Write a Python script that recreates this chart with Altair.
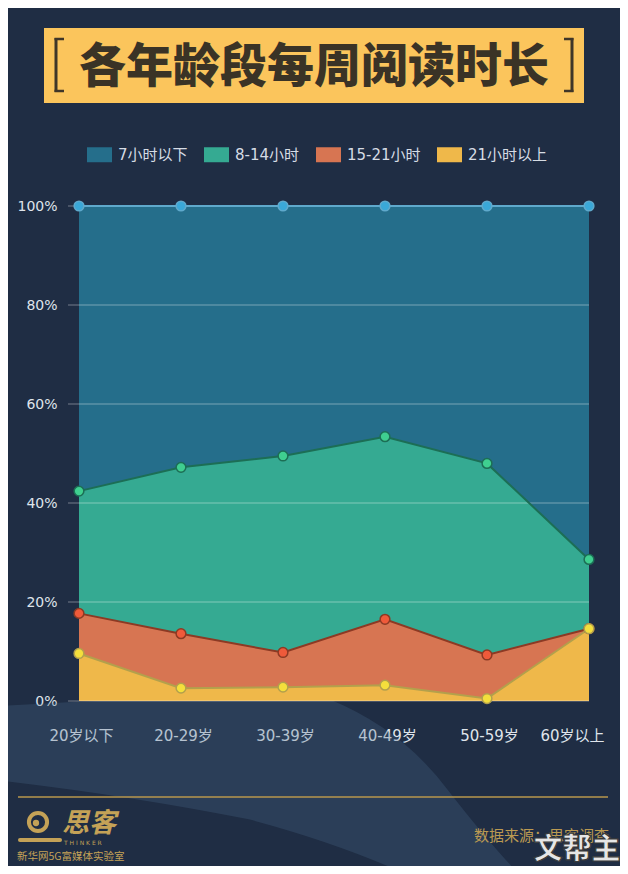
import altair as alt
import pandas as pd

# ---------------- data ----------------
ages = ["20岁以下", "20-29岁", "30-39岁", "40-49岁", "50-59岁", "60岁以上"]
series_names = ["7小时以下", "8-14小时", "15-21小时", "21小时以上"]
under7 = [57.6, 52.8, 50.5, 46.6, 52.0, 71.4]
h8_14 = [24.7, 33.6, 39.7, 36.9, 38.7, 14.0]
h15_21 = [8.1, 11.0, 7.0, 13.3, 8.8, 0.0]
over21 = [9.6, 2.6, 2.8, 3.2, 0.5, 14.6]
y_ticks = [0, 20, 40, 60, 80, 100]

title_text = "各年龄段每周阅读时长"
source_text = "数据来源：思客调查"
lab_text = "新华网5G富媒体实验室"
logo_text = "思客"
logo_sub = "T H I N K E R"
watermark = "文帮主"

# ---------------- styles ----------------
area_colors = ["#256e8b", "#35aa92", "#d77552", "#efb84a"]
line_colors = ["#5fa9cc", "#1c6e55", "#8c3a24", "#b3a04c"]
point_fill = ["#3aa8d8", "#3fcf90", "#ef5a3a", "#f4df3c"]
BG = "#1f2d44"
FONT = "Noto Sans CJK SC"
LFONT = "DejaVu Sans, Noto Sans CJK SC"

rows = []
for s_i, (name, vals) in enumerate(zip(series_names, [under7, h8_14, h15_21, over21])):
    for a_i, (age, v) in enumerate(zip(ages, vals)):
        rows.append({"age": age, "series": name, "value": v, "order": 3 - s_i})
df = pd.DataFrame(rows)
grid_df = pd.DataFrame({"tick": y_ticks})
one = pd.DataFrame({"k": [0]})

x_enc = alt.X(
    "age:N",
    sort=ages,
    scale=alt.Scale(type="point", range=[11, 521], padding=0),
    axis=alt.Axis(
        title=None, domain=False, ticks=False, grid=False,
        labelAngle=0, labelFontSize=15, labelColor="#dfe4eb", labelFont=LFONT,
        labelPadding=27,
        labelOffset={"condition": {"test": "datum.value === '60岁以上'", "value": -17}, "value": 2},
    ),
)
y_scale = alt.Scale(domain=[0, 100], nice=False)

base = alt.Chart(df).transform_stack(
    stack="value", groupby=["age"], as_=["y0", "y1"], sort=[alt.SortField("order")]
)

areas = base.mark_area(opacity=1, line=False).encode(
    x=x_enc,
    y=alt.Y(
        "y1:Q", scale=y_scale,
        axis=alt.Axis(
            title=None, values=y_ticks, grid=False, domain=False, ticks=False,
            labelExpr="datum.value + '%'", labelFontSize=14, labelColor="#dfe4eb",
            labelFont=LFONT, labelPadding=11,
        ),
    ),
    y2="y0:Q",
    color=alt.Color(
        "series:N",
        scale=alt.Scale(domain=series_names, range=area_colors),
        legend=alt.Legend(
            title=None, orient="none", legendX=19, legendY=-64, direction="horizontal",
            symbolType="M-1,-0.6H1V0.6H-1Z", symbolSize=625, symbolStrokeWidth=0,
            symbolOpacity=1, labelFontSize=15, labelColor="#d6dce4", labelFont=LFONT,
            labelOffset=6, columnPadding=16,
        ),
    ),
)

grid = alt.Chart(grid_df).mark_rule(color="#ffffff", opacity=0.38, strokeWidth=1).encode(
    y=alt.Y("tick:Q", scale=y_scale)
)

lines = base.mark_line(strokeWidth=2).encode(
    x=x_enc,
    y=alt.Y("y1:Q", scale=y_scale),
    stroke=alt.Stroke("series:N", scale=alt.Scale(domain=series_names, range=line_colors), legend=None),
)

points = base.mark_point(filled=True, size=95, strokeWidth=1.5, opacity=1).encode(
    x=x_enc,
    y=alt.Y("y1:Q", scale=y_scale),
    fill=alt.Fill("series:N", scale=alt.Scale(domain=series_names, range=point_fill), legend=None),
    stroke=alt.Stroke("series:N", scale=alt.Scale(domain=series_names, range=line_colors), legend=None),
)

# ---------------- decorations (pixel positions relative to plot origin) ----------------
deco = alt.Chart(one)

# lighter background wave at the bottom (decorative)
wave_path = (
    "M-1.05,-0.52 Q-0.5,-0.56 0.05,-0.545 Q0.28,-0.45 0.42,-0.26 Q0.56,-0.08 0.66,0.02 "
    "L0.33,0.02 Q0.1,-0.09 -0.2,-0.17 Q-0.6,-0.25 -1.05,-0.30 Z"
)
wave = deco.mark_point(
    shape=wave_path, filled=True, size=409600, color="#4a6a8c", opacity=0.28, strokeWidth=0
).encode(x=alt.value(246), y=alt.value(668))

title_box = deco.mark_rect(color="#fbc55c").encode(
    x=alt.value(-24), x2=alt.value(516), y=alt.value(-178), y2=alt.value(-103)
)
title = deco.mark_text(
    text=title_text, fontSize=47, fontWeight=900, font=FONT, color="#3a3326",
    align="center", baseline="middle",
).encode(x=alt.value(246), y=alt.value(-138))

BR = "#3f3628"
brackets = [
    deco.mark_rule(color=BR, strokeWidth=3).encode(x=alt.value(-12), y=alt.value(-168), y2=alt.value(-114)),
    deco.mark_rule(color=BR, strokeWidth=2.5).encode(x=alt.value(-13.5), x2=alt.value(-4), y=alt.value(-167)),
    deco.mark_rule(color=BR, strokeWidth=2.5).encode(x=alt.value(-13.5), x2=alt.value(-4), y=alt.value(-115)),
    deco.mark_rule(color=BR, strokeWidth=3).encode(x=alt.value(504), y=alt.value(-168), y2=alt.value(-114)),
    deco.mark_rule(color=BR, strokeWidth=2.5).encode(x=alt.value(496), x2=alt.value(505.5), y=alt.value(-167)),
    deco.mark_rule(color=BR, strokeWidth=2.5).encode(x=alt.value(496), x2=alt.value(505.5), y=alt.value(-115)),
]

GOLD = "#c4a257"
footer_line = deco.mark_rule(color="#b8974d", strokeWidth=1.5).encode(
    x=alt.value(-50), x2=alt.value(540), y=alt.value(591)
)
logo_ring = deco.mark_point(shape="circle", filled=False, size=330, strokeWidth=4, color=GOLD, opacity=1).encode(
    x=alt.value(-30), y=alt.value(616)
)
logo_dot = deco.mark_point(shape="circle", filled=True, size=40, color=GOLD, opacity=1).encode(
    x=alt.value(-32), y=alt.value(617)
)
logo_swoosh = deco.mark_rule(color=GOLD, strokeWidth=4, strokeCap="round").encode(
    x=alt.value(-48), x2=alt.value(-8), y=alt.value(634)
)
logo_cn = deco.mark_text(
    text=logo_text, fontSize=27, fontWeight="bold", fontStyle="italic", font=FONT, color=GOLD,
    align="left", baseline="middle",
).encode(x=alt.value(-6), y=alt.value(618))
logo_en = deco.mark_text(
    text=logo_sub, fontSize=6, font="DejaVu Sans", color=GOLD, align="left", baseline="middle"
).encode(x=alt.value(-4), y=alt.value(637))
lab = deco.mark_text(
    text=lab_text, fontSize=10.5, font=FONT, color=GOLD, align="left", baseline="middle"
).encode(x=alt.value(-51), y=alt.value(651))
source = deco.mark_text(
    text=source_text, fontSize=15, font=FONT, color="#bb9a52", align="left", baseline="middle"
).encode(x=alt.value(406), y=alt.value(630))
wm = deco.mark_text(
    text=watermark, fontSize=29, fontWeight=900, font=FONT, color="#e6e6e6",
    stroke="#3a3a3a", strokeWidth=1.2, align="center", baseline="middle",
).encode(x=alt.value(509), y=alt.value(644))

chart = alt.layer(
    wave, areas, grid, lines, points,
    title_box, title, *brackets,
    footer_line, logo_ring, logo_dot, logo_swoosh, logo_cn, logo_en, lab, source, wm,
).properties(
    width=521, height=495,
    autosize=alt.AutoSizeParams(type="none"),
    padding={"left": 60, "top": 198, "right": 31, "bottom": 165},
    background=BG,
).configure_view(stroke=None).resolve_scale(color="independent")

chart.save("out.html", embed_options={"renderer": "svg", "actions": False})
